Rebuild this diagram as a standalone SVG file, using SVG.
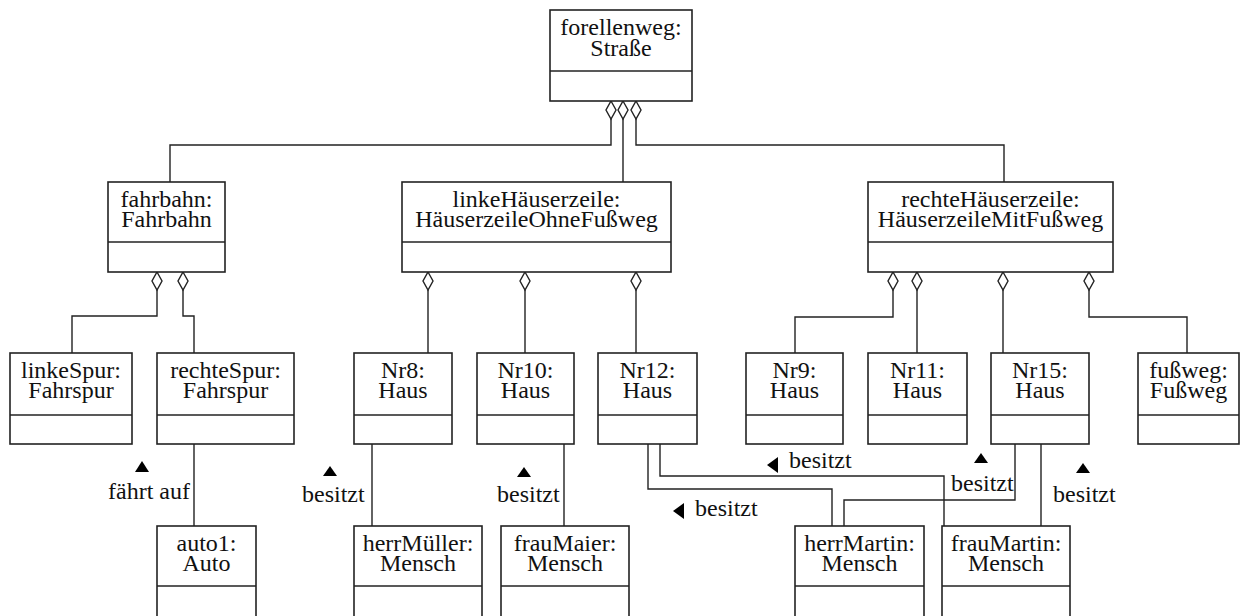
<svg xmlns="http://www.w3.org/2000/svg" width="1250" height="616" viewBox="0 0 1250 616" font-family="'Liberation Serif', 'Times New Roman', Times, 'DejaVu Serif', serif">
<style>
.box{fill:#fff;stroke:#222;stroke-width:1.6}
.div{stroke:#222;stroke-width:1.6}
.t{font-family:'Liberation Serif','Times New Roman',Times,'DejaVu Serif',serif;font-size:24px;fill:#111;text-anchor:middle}
.l{font-family:'Liberation Serif','Times New Roman',Times,'DejaVu Serif',serif;font-size:24px;fill:#111}
.c{fill:none;stroke:#222;stroke-width:1.4}
.dia{fill:#fff;stroke:#222;stroke-width:1.4}
.arr{fill:#000}
</style>
<defs>
<path id="dm" d="M0,0 L5,9 L0,18 L-5,9 Z"/>
</defs>
<rect width="1250" height="616" fill="#fff"/>

<g id="connectors">
<path class="c" d="M611,119 V145 H170 V182"/>
<path class="c" d="M623,119 V182"/>
<path class="c" d="M636,119 V145 H1004 V182"/>
<path class="c" d="M157,290 V316 H72 V353"/>
<path class="c" d="M183,290 V316 H194 V353"/>
<path class="c" d="M194,444 V526"/>
<path class="c" d="M428,290 V353"/>
<path class="c" d="M525,290 V353"/>
<path class="c" d="M636,290 V353"/>
<path class="c" d="M893,290 V317 H795 V353"/>
<path class="c" d="M917,290 V353"/>
<path class="c" d="M1003,290 V353"/>
<path class="c" d="M1089,290 V317 H1187 V353"/>
<path class="c" d="M372,444 V526"/>
<path class="c" d="M564,444 V526"/>
<path class="c" d="M648,444 V489 H832 V526"/>
<path class="c" d="M660,444 V476 H944 V526"/>
<path class="c" d="M1015,444 V500 H844 V526"/>
<path class="c" d="M1041,444 V526"/>
<use href="#dm" class="dia" x="611" y="101"/>
<use href="#dm" class="dia" x="623" y="101"/>
<use href="#dm" class="dia" x="636" y="101"/>
<use href="#dm" class="dia" x="157" y="272"/>
<use href="#dm" class="dia" x="183" y="272"/>
<use href="#dm" class="dia" x="428" y="272"/>
<use href="#dm" class="dia" x="525" y="272"/>
<use href="#dm" class="dia" x="636" y="272"/>
<use href="#dm" class="dia" x="893" y="272"/>
<use href="#dm" class="dia" x="917" y="272"/>
<use href="#dm" class="dia" x="1003" y="272"/>
<use href="#dm" class="dia" x="1089" y="272"/>
</g>

<g id="labels">
<polygon class="arr" points="142,461 149,472 135,472"/>
<text class="l" x="108" y="499">fährt auf</text>
<polygon class="arr" points="330,466 337,476 323,476"/>
<text class="l" x="302" y="502">besitzt</text>
<polygon class="arr" points="524,467 531,477 517,477"/>
<text class="l" x="497" y="502">besitzt</text>
<polygon class="arr" points="767,465 778,457 778,473"/>
<text class="l" x="789" y="468">besitzt</text>
<polygon class="arr" points="673,511 684,503 684,519"/>
<text class="l" x="695" y="516">besitzt</text>
<polygon class="arr" points="981,453 988,463 974,463"/>
<text class="l" x="951" y="491">besitzt</text>
<polygon class="arr" points="1083,463 1090,473 1076,473"/>
<text class="l" x="1053" y="502">besitzt</text>
</g>

<g id="forellenweg">
<rect class="box" x="550" y="10" width="142" height="91"/>
<line class="div" x1="550" y1="71" x2="692" y2="71"/>
<text class="t" x="621" y="35">forellenweg:</text>
<text class="t" x="621" y="56">Straße</text>
</g>

<g id="fahrbahn">
<rect class="box" x="108" y="182" width="117" height="90"/>
<line class="div" x1="108" y1="242" x2="225" y2="242"/>
<text class="t" x="166.5" y="207">fahrbahn:</text>
<text class="t" x="166.5" y="227">Fahrbahn</text>
</g>

<g id="linkeHaeuserzeile">
<rect class="box" x="402" y="182" width="269" height="90"/>
<line class="div" x1="402" y1="242" x2="671" y2="242"/>
<text class="t" x="536.5" y="207">linkeHäuserzeile:</text>
<text class="t" x="536.5" y="227">HäuserzeileOhneFußweg</text>
</g>

<g id="rechteHaeuserzeile">
<rect class="box" x="868" y="182" width="245" height="90"/>
<line class="div" x1="868" y1="242" x2="1113" y2="242"/>
<text class="t" x="990.5" y="207">rechteHäuserzeile:</text>
<text class="t" x="990.5" y="227">HäuserzeileMitFußweg</text>
</g>

<g id="linkeSpur">
<rect class="box" x="10" y="353" width="122" height="91"/>
<line class="div" x1="10" y1="415" x2="132" y2="415"/>
<text class="t" x="71" y="378">linkeSpur:</text>
<text class="t" x="71" y="398">Fahrspur</text>
</g>

<g id="rechteSpur">
<rect class="box" x="157" y="353" width="137" height="91"/>
<line class="div" x1="157" y1="415" x2="294" y2="415"/>
<text class="t" x="225.5" y="378">rechteSpur:</text>
<text class="t" x="225.5" y="398">Fahrspur</text>
</g>

<g id="Nr8">
<rect class="box" x="354" y="353" width="98" height="91"/>
<line class="div" x1="354" y1="415" x2="452" y2="415"/>
<text class="t" x="403" y="378">Nr8:</text>
<text class="t" x="403" y="398">Haus</text>
</g>

<g id="Nr10">
<rect class="box" x="477" y="353" width="97" height="91"/>
<line class="div" x1="477" y1="415" x2="574" y2="415"/>
<text class="t" x="525.5" y="378">Nr10:</text>
<text class="t" x="525.5" y="398">Haus</text>
</g>

<g id="Nr12">
<rect class="box" x="598" y="353" width="99" height="91"/>
<line class="div" x1="598" y1="415" x2="697" y2="415"/>
<text class="t" x="647.5" y="378">Nr12:</text>
<text class="t" x="647.5" y="398">Haus</text>
</g>

<g id="Nr9">
<rect class="box" x="746" y="353" width="97" height="91"/>
<line class="div" x1="746" y1="415" x2="843" y2="415"/>
<text class="t" x="794.5" y="378">Nr9:</text>
<text class="t" x="794.5" y="398">Haus</text>
</g>

<g id="Nr11">
<rect class="box" x="868" y="353" width="99" height="91"/>
<line class="div" x1="868" y1="415" x2="967" y2="415"/>
<text class="t" x="917.5" y="378">Nr11:</text>
<text class="t" x="917.5" y="398">Haus</text>
</g>

<g id="Nr15">
<rect class="box" x="991" y="353" width="98" height="91"/>
<line class="div" x1="991" y1="415" x2="1089" y2="415"/>
<text class="t" x="1040" y="378">Nr15:</text>
<text class="t" x="1040" y="398">Haus</text>
</g>

<g id="fussweg">
<rect class="box" x="1138" y="353" width="101" height="91"/>
<line class="div" x1="1138" y1="415" x2="1239" y2="415"/>
<text class="t" x="1188.5" y="378">fußweg:</text>
<text class="t" x="1188.5" y="398">Fußweg</text>
</g>

<g id="auto1">
<rect class="box" x="157" y="526" width="99" height="100"/>
<line class="div" x1="157" y1="586" x2="256" y2="586"/>
<text class="t" x="206.5" y="551">auto1:</text>
<text class="t" x="206.5" y="571">Auto</text>
</g>

<g id="herrMueller">
<rect class="box" x="354" y="526" width="128" height="100"/>
<line class="div" x1="354" y1="586" x2="482" y2="586"/>
<text class="t" x="418" y="551">herrMüller:</text>
<text class="t" x="418" y="571">Mensch</text>
</g>

<g id="frauMaier">
<rect class="box" x="501" y="526" width="128" height="100"/>
<line class="div" x1="501" y1="586" x2="629" y2="586"/>
<text class="t" x="565" y="551">frauMaier:</text>
<text class="t" x="565" y="571">Mensch</text>
</g>

<g id="herrMartin">
<rect class="box" x="795" y="526" width="129" height="100"/>
<line class="div" x1="795" y1="586" x2="924" y2="586"/>
<text class="t" x="859.5" y="551">herrMartin:</text>
<text class="t" x="859.5" y="571">Mensch</text>
</g>

<g id="frauMartin">
<rect class="box" x="942" y="526" width="128" height="100"/>
<line class="div" x1="942" y1="586" x2="1070" y2="586"/>
<text class="t" x="1006" y="551">frauMartin:</text>
<text class="t" x="1006" y="571">Mensch</text>
</g>
</svg>
